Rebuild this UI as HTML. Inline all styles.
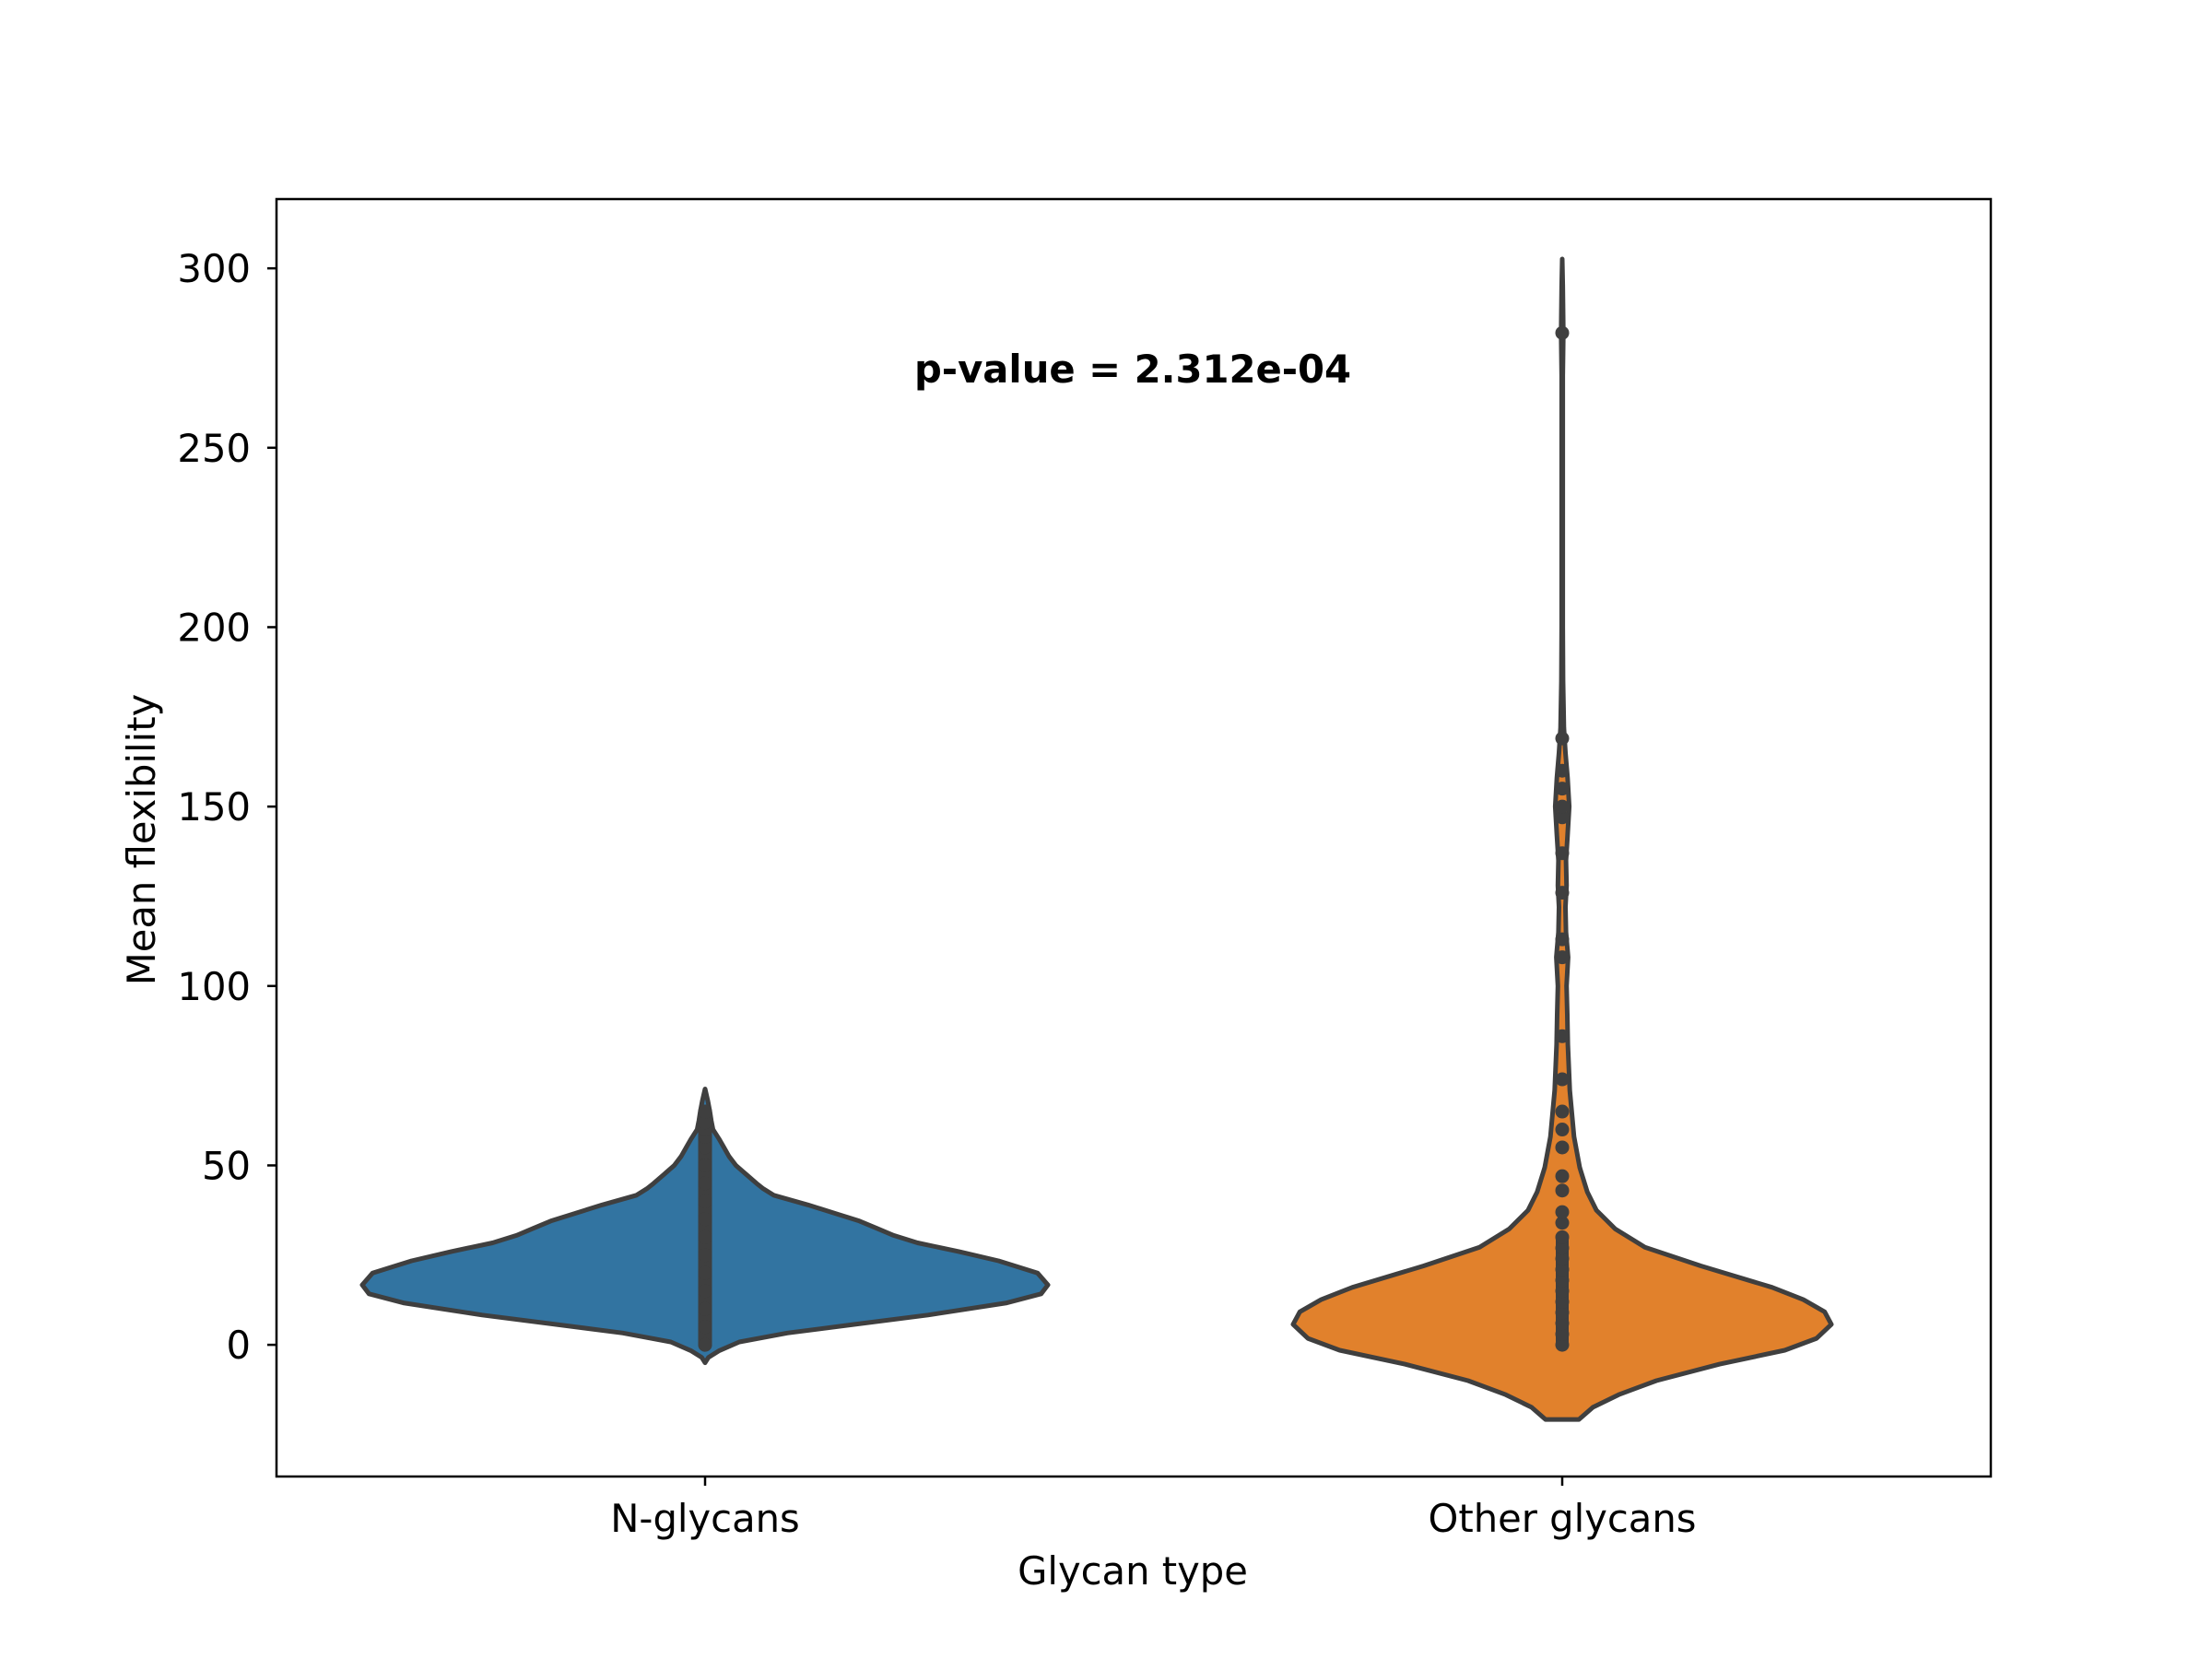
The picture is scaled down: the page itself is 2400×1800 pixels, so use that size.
<!DOCTYPE html>
<html><head><meta charset="utf-8"><style>
html,body{margin:0;padding:0;background:#fff;}
svg{display:block;font-family:"DejaVu Sans","Liberation Sans",sans-serif;}
</style></head><body>
<svg id="chart" width="2400" height="1800" viewBox="0 0 2400 1800" xmlns="http://www.w3.org/2000/svg">
<rect width="2400" height="1800" fill="#fff"/>
<g id="plot"></g>
<rect x="300" y="216" width="1860" height="1386" fill="none" stroke="#000" stroke-width="2.5"/>
<g id="axes"></g>
<text x="1229" y="415" text-anchor="middle" font-size="41.7" font-weight="bold">p-value = 2.312e-04</text>
<text x="1229" y="1719" text-anchor="middle" font-size="41.7">Glycan type</text>
<text x="0" y="0" transform="translate(168,911) rotate(-90)" text-anchor="middle" font-size="41.7">Mean flexibility</text>
</svg>
<script>
const categories = ["N-glycans", "Other glycans"];
const yTicks = [0, 50, 100, 150, 200, 250, 300];
// violin profiles: values and relative half-widths (fraction of max width)
const nValues = [-5, -3.5, -1.7, 0.8, 3.3, 5.8, 8.3, 11.7, 14.2, 16.7, 20, 23.4, 26, 28.4, 30.5, 32.5, 34.5, 36.7, 39, 41.7, 43.5, 45, 47.5, 50, 52.5, 55, 57.5, 60, 62.5, 65, 68, 71.3];
const nWidths = [0, 0.01, 0.04, 0.10, 0.24, 0.445, 0.65, 0.88, 0.98, 1.0, 0.97, 0.856, 0.74, 0.62, 0.55, 0.5, 0.45, 0.377, 0.3, 0.2, 0.17, 0.15, 0.12, 0.09, 0.07, 0.055, 0.04, 0.023, 0.018, 0.014, 0.008, 0];
const oScale = 0.785;
const oValues = [-20.8, -17.4, -13.9, -10, -5.4, -1.5, 1.8, 5.7, 9.2, 12.6, 16, 22, 27.2, 32.3, 37.5, 42.6, 49.4, 58, 70.9, 83.7, 92, 100, 108, 115, 122, 128, 135, 142, 150, 158, 165, 172, 185, 200, 270, 282, 295, 302.6];
const oWidths = [0.062, 0.114, 0.21, 0.35, 0.585, 0.827, 0.945, 1.0, 0.975, 0.896, 0.78, 0.515, 0.307, 0.197, 0.127, 0.093, 0.065, 0.044, 0.028, 0.021, 0.019, 0.016, 0.022, 0.014, 0.012, 0.016, 0.014, 0.02, 0.026, 0.02, 0.012, 0.006, 0.003, 0.002, 0.002, 0.004, 0.002, 0];
const nPoints = [0, 5, 10, 15, 20, 25, 30, 35, 40, 45, 50, 55, 58, 60, 62, 65];
const oPoints = [0, 3, 6, 9, 12, 15, 18, 21, 24, 27, 30, 34, 37, 43, 47, 55, 60, 65, 74, 86, 108, 113, 126, 137, 147, 150, 155, 160, 169, 282];

const NS = "http://www.w3.org/2000/svg";
const X0 = 300, X1 = 2160, Y0 = 216, Y1 = 1602;
const yMin = -36.7, yMax = 319.3;
function sx(i){ return X0 + (i + 0.5) / 2 * (X1 - X0); }
function sy(v){ return Y1 - (v - yMin) / (yMax - yMin) * (Y1 - Y0); }
const maxHalf = 0.4 * (X1 - X0) / 2;
const plot = document.getElementById('plot');
const axes = document.getElementById('axes');

function violin(idx, vals, ws, scale, color, name){
  const cx = sx(idx);
  let right = [], left = [];
  for (let k = 0; k < vals.length; k++){
    right.push((cx + ws[k]*scale*maxHalf).toFixed(1) + ',' + sy(vals[k]).toFixed(1));
    left.unshift((cx - ws[k]*scale*maxHalf).toFixed(1) + ',' + sy(vals[k]).toFixed(1));
  }
  const p = document.createElementNS(NS, 'polygon');
  p.setAttribute('points', right.concat(left).join(' '));
  p.setAttribute('fill', color);
  p.setAttribute('stroke', '#3f3f3f');
  p.setAttribute('stroke-width', '5');
  p.setAttribute('stroke-linejoin', 'round');
  
  
  plot.appendChild(p);
}
function pts(idx, arr, name){
  const cx = sx(idx);
  for (const v of arr){
    const c = document.createElementNS(NS, 'circle');
    c.setAttribute('cx', cx); c.setAttribute('cy', sy(v)); c.setAttribute('r', 7.5);
    c.setAttribute('fill', '#3f3f3f');
    
    
    plot.appendChild(c);
  }
}
violin(0, nValues, nWidths, 1, '#3274a1', 'violin-n-glycans');
violin(1, oValues, oWidths, oScale, '#e1812c', 'violin-other-glycans');
const strip = document.createElementNS(NS, 'line');
strip.setAttribute('x1', sx(0)); strip.setAttribute('x2', sx(0));
strip.setAttribute('y1', sy(nPoints[0])); strip.setAttribute('y2', sy(nPoints[nPoints.length-1]));
strip.setAttribute('stroke', '#3f3f3f'); strip.setAttribute('stroke-width', '15'); strip.setAttribute('stroke-linecap', 'round');


plot.appendChild(strip);
pts(0, nPoints, 'n-glycans-point');
const strip2 = document.createElementNS(NS, 'line');
strip2.setAttribute('x1', sx(1)); strip2.setAttribute('x2', sx(1));
strip2.setAttribute('y1', sy(0)); strip2.setAttribute('y2', sy(30));
strip2.setAttribute('stroke', '#3f3f3f'); strip2.setAttribute('stroke-width', '14'); strip2.setAttribute('stroke-linecap', 'round');


plot.appendChild(strip2);
pts(1, oPoints, 'other-glycans-point');

for (const t of yTicks){
  const y = sy(t);
  const l = document.createElementNS(NS, 'line');
  l.setAttribute('x1', X0 - 10); l.setAttribute('x2', X0); l.setAttribute('y1', y); l.setAttribute('y2', y);
  l.setAttribute('stroke', '#000'); l.setAttribute('stroke-width', '2.5');
  
  
  axes.appendChild(l);
  const tx = document.createElementNS(NS, 'text');
  tx.setAttribute('x', 272); tx.setAttribute('y', y + 15); tx.setAttribute('text-anchor', 'end'); tx.setAttribute('font-size', '41.7');
  tx.textContent = t;
  
  
  axes.appendChild(tx);
}
categories.forEach((c, i) => {
  const x = sx(i);
  const l = document.createElementNS(NS, 'line');
  l.setAttribute('x1', x); l.setAttribute('x2', x); l.setAttribute('y1', Y1); l.setAttribute('y2', Y1 + 10);
  l.setAttribute('stroke', '#000'); l.setAttribute('stroke-width', '2.5');
  
  
  axes.appendChild(l);
  const tx = document.createElementNS(NS, 'text');
  tx.setAttribute('x', x); tx.setAttribute('y', 1662); tx.setAttribute('text-anchor', 'middle'); tx.setAttribute('font-size', '41.7');
  tx.textContent = c;
  
  
  axes.appendChild(tx);
});
</script>
</body></html>
